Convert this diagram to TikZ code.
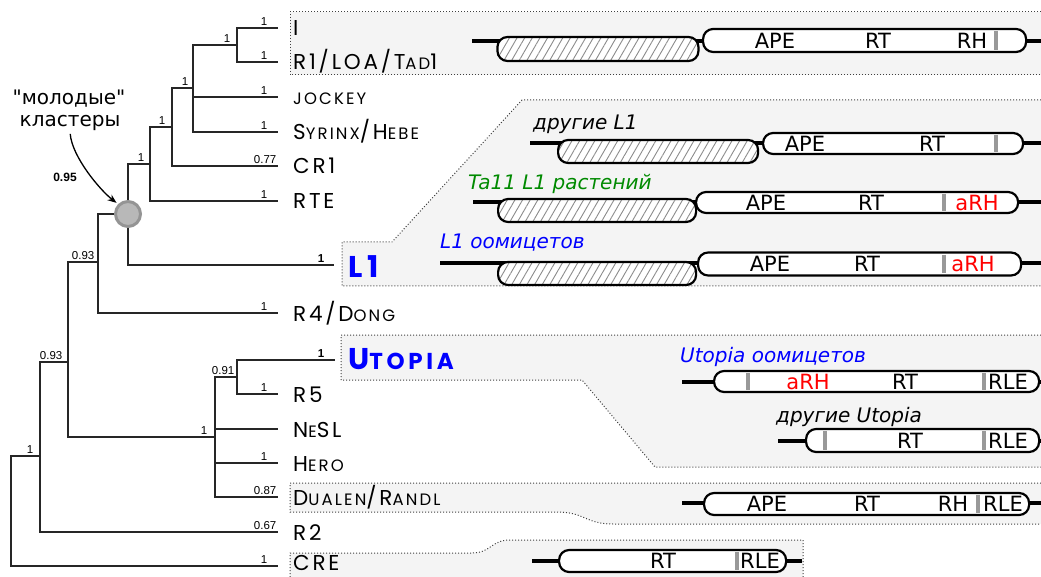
\documentclass[tikz,border=0pt]{standalone}
\usepackage{fontspec}
\setmainfont{DejaVu Sans}
\newfontfamily\annfont{DejaVu Sans}
\newfontfamily\leaffont[LetterSpace=13]{Poppins}
\newfontfamily\bigleaffont[LetterSpace=16]{Poppins}
\newfontfamily\numfont{Liberation Sans}
\usetikzlibrary{patterns.meta,arrows.meta}
\definecolor{regionbg}{HTML}{F4F4F4}
\definecolor{bargray}{HTML}{999999}
\definecolor{mygreen}{HTML}{008A00}
\definecolor{myblue}{HTML}{0000FF}
\definecolor{myred}{HTML}{FF0000}
\newcommand\Ssc[1]{{\fontsize{16.5}{16.5}\selectfont #1}}
\newcommand\Bsc[1]{{\fontsize{23}{23}\selectfont #1}}
\begin{document}
\begin{tikzpicture}[x=1pt,y=-1pt,
  edge/.style={line width=1.4pt,draw=black!85},
  lab/.style={font=\numfont\fontsize{11.5}{11.5}\selectfont,anchor=south east,inner sep=0pt,yshift=1.5pt},
  leaf/.style={font=\leaffont\fontsize{21.5}{21.5}\selectfont,anchor=base west,inner sep=0pt},
  bigleaf/.style={font=\bigleaffont\bfseries\fontsize{30}{30}\selectfont,anchor=base west,inner sep=0pt,text=myblue},
  dotb/.style={draw=black!75,line width=1pt,dash pattern=on 1pt off 2pt},
  orf/.style={draw=black,line width=2.2pt,fill=white,rounded corners=10pt,inner sep=0pt,minimum height=22pt,anchor=west},
  hatch/.style={orf,preaction={fill=white},pattern={Lines[angle=60,distance=6.6pt,line width=0.9pt]},pattern color=black!45},
  backbone/.style={line width=3.2pt,black},
  otext/.style={font=\fontsize{21}{21}\selectfont,inner sep=0pt},
  itext/.style={font=\itshape\fontsize{20}{20}\selectfont,inner sep=0pt,anchor=base west},
  gbar/.style={draw=bargray,line width=4pt}]
\useasboundingbox (0,0) rectangle (1041,577);

% ---------- shaded regions ----------
\fill[regionbg] (1041,12) -- (290,12) -- (290,75) -- (1041,75) -- cycle;
\draw[dotb] (1041,12) -- (290,12) -- (290,75) -- (1041,75);
\fill[regionbg] (1041,100) -- (522,100) -- (392,242) -- (342,242) -- (342,286) -- (1041,286) -- cycle;
\draw[dotb] (1041,100) -- (522,100) -- (392,242) -- (342,242) -- (342,286) -- (1041,286);
\fill[regionbg] (1041,335) -- (341,335) -- (341,380) -- (582,380) -- (655,467) -- (1041,467) -- cycle;
\draw[dotb] (1041,335) -- (341,335) -- (341,380) -- (582,380) -- (655,467) -- (1041,467);
\fill[regionbg] (1041,483) -- (290,483) -- (290,512) -- (557,512) .. controls (585,512) and (585,524) .. (613,524) -- (1041,524) -- cycle;
\draw[dotb] (1041,483) -- (290,483) -- (290,512) -- (557,512) .. controls (585,512) and (585,524) .. (613,524) -- (1041,524);
\fill[regionbg] (290,577) -- (290,553) -- (472,553) .. controls (491,553) and (491,540) .. (510,540) -- (803,540) -- (803,577) -- cycle;
\draw[dotb] (290,577) -- (290,553) -- (472,553) .. controls (491,553) and (491,540) .. (510,540) -- (803,540) -- (803,577);

% ---------- tree ----------
\coordinate (lI) at (278,28);
\coordinate (lR1) at (278,62);
\coordinate (lJo) at (278,97);
\coordinate (lSy) at (278,132);
\coordinate (lCR) at (278,166);
\coordinate (lRTE) at (278,201);
\coordinate (lL1) at (334,265);
\coordinate (lR4) at (278,313);
\coordinate (lUt) at (335,360);
\coordinate (lR5) at (278,394);
\coordinate (lNe) at (278,429);
\coordinate (lHe) at (278,463);
\coordinate (lDu) at (278,497);
\coordinate (lR2) at (278,532);
\coordinate (lCRE) at (278,566);
\coordinate (nA) at (237,45);
\coordinate (nB) at (193,88);
\coordinate (nC) at (172,127);
\coordinate (nD) at (150,164);
\coordinate (nE) at (128,214);
\coordinate (nF) at (98,262);
\coordinate (nG) at (68,362);
\coordinate (nH) at (215,437);
\coordinate (nI) at (237,377);
\coordinate (nJ) at (40,456);
\coordinate (nK) at (11,500);

\draw[edge] (nA) |- (lI) node[lab,pos=1,xshift=-10pt]{1};
\draw[edge] (nA) |- (lR1) node[lab,pos=1,xshift=-10pt]{1};
\draw[edge] (nB) |- (nA) node[lab,pos=1,xshift=-6pt]{1};
\draw[edge] (nB) |- (lJo) node[lab,pos=1,xshift=-10pt]{1};
\draw[edge] (nB) |- (lSy) node[lab,pos=1,xshift=-10pt]{1};
\draw[edge] (nC) |- (nB) node[lab,pos=1,xshift=-4pt]{1};
\draw[edge] (nC) |- (lCR) node[lab,pos=1,xshift=-1pt]{0.77};
\draw[edge] (nD) |- (nC) node[lab,pos=1,xshift=-6pt]{1};
\draw[edge] (nD) |- (lRTE) node[lab,pos=1,xshift=-10pt]{1};
\draw[edge] (nE) |- (nD) node[lab,pos=1,xshift=-5pt]{1};
\draw[edge] (nE) |- (lL1) node[lab,pos=1,xshift=-9pt,font=\numfont\bfseries\fontsize{11.5}{11.5}\selectfont]{1};
\draw[edge] (nF) |- (nE);
\draw[edge] (nF) |- (lR4) node[lab,pos=1,xshift=-10pt]{1};
\draw[edge] (nG) |- (nF) node[lab,pos=1,xshift=-3pt]{0.93};
\draw[edge] (nG) |- (nH) node[lab,pos=1,xshift=-7pt]{1};
\draw[edge] (nI) |- (lUt) node[lab,pos=1,xshift=-10pt,font=\numfont\bfseries\fontsize{11.5}{11.5}\selectfont]{1};
\draw[edge] (nI) |- (lR5) node[lab,pos=1,xshift=-10pt]{1};
\draw[edge] (nH) |- (nI) node[lab,pos=1,xshift=-2pt]{0.91};
\draw[edge] (nH) |- (lNe);
\draw[edge] (nH) |- (lHe) node[lab,pos=1,xshift=-10pt]{1};
\draw[edge] (nH) |- (lDu) node[lab,pos=1,xshift=-1pt]{0.87};
\draw[edge] (nJ) |- (nG) node[lab,pos=1,xshift=-5pt]{0.93};
\draw[edge] (nJ) |- (lR2) node[lab,pos=1,xshift=-1pt]{0.67};
\draw[edge] (nK) |- (nJ) node[lab,pos=1,xshift=-6pt]{1};
\draw[edge] (nK) |- (lCRE) node[lab,pos=1,xshift=-10pt]{1};

\node[circle,fill=black!28,draw=black!42,line width=3pt,minimum size=25pt,inner sep=0pt] (circ) at (nE) {};

% annotation
\node[inner sep=0pt,font=\annfont\fontsize{20}{20}\selectfont] (mol) at (69,99) {"молодые"};
\node[inner sep=0pt,font=\annfont\fontsize{20}{20}\selectfont] (kl) at (70,123) {кластеры};
\node[inner sep=0pt,font=\numfont\bfseries\fontsize{12}{12}\selectfont] (p95) at (65,177) {0.95};
\draw[line width=1.3pt,-{Stealth[length=9pt,width=7pt]},shorten <=3pt,shorten >=2pt] (kl.south) .. controls +(2,26) and +(-18,-14) .. (circ.north west);

% leaf labels
\node[leaf] (tI) at (293,36) {I};
\node[leaf] (tR1) at (293,70) {R1/LOA/T\Ssc{AD}1};
\node[leaf] (tJo) at (293,105) {\Ssc{JOCKEY}};
\node[leaf] (tSy) at (293,140) {S\Ssc{YRINX}/H\Ssc{EBE}};
\node[leaf] (tCR) at (293,174) {CR1};
\node[leaf] (tRTE) at (293,209) {RTE};
\node[bigleaf] (tL1) at (348,277) {L1};
\node[leaf] (tR4) at (293,321) {R4/D\Ssc{ONG}};
\node[bigleaf] (tUt) at (348,369) {U\Bsc{TOPIA}};
\node[leaf] (tR5) at (293,402) {R5};
\node[leaf] (tNe) at (293,437) {N\Ssc{E}SL};
\node[leaf] (tHe) at (293,471) {H\Ssc{ERO}};
\node[leaf] (tDu) at (293,505) {D\Ssc{UALEN}/R\Ssc{ANDL}};
\node[leaf] (tR2) at (293,540) {R2};
\node[leaf] (tCRE) at (293,570) {CRE};

% ---------- ORF row 1 ----------
\coordinate (s1) at (472,41); \coordinate (e1) at (1041,41);
\draw[backbone] (s1) -- (e1);
\node[hatch,minimum width=201pt,minimum height=24pt] (h1) at (497,49) {};
\node[orf,minimum width=323pt,minimum height=23pt] (w1) at (702,40.5) {};
\node[otext] at (775,40.5) {APE};
\node[otext] at (878,40.5) {RT};
\node[otext] at (972,40.5) {RH};
\draw[gbar] (996,31) -- (996,50);

% ---------- ORF row 2 ----------
\node[itext] (lab2) at (533,130) {другие L1};
\coordinate (s2) at (530,143); \coordinate (e2) at (1041,143);
\draw[backbone] (s2) -- (e2);
\node[hatch,minimum width=200pt,minimum height=23pt] (h2) at (557,151.5) {};
\node[orf,minimum width=260pt,minimum height=21pt] (w2) at (762,143.5) {};
\node[otext] at (805,143.5) {APE};
\node[otext] at (932,143.5) {RT};
\draw[gbar] (996,135) -- (996,152);

% ---------- ORF row 3 ----------
\node[itext,text=mygreen] (lab3) at (468,190) {Ta11 L1 растений};
\coordinate (s3) at (473,202); \coordinate (e3) at (1041,202);
\draw[backbone] (s3) -- (e3);
\node[hatch,minimum width=198pt,minimum height=23pt] (h3) at (497,210.5) {};
\node[orf,minimum width=322pt,minimum height=21pt] (w3) at (695,202.5) {};
\node[otext] at (766,202.5) {APE};
\node[otext] at (871,202.5) {RT};
\draw[gbar] (944,194) -- (944,211);
\node[otext,text=myred] at (977,202.5) {aRH};

% ---------- ORF row 4 ----------
\node[itext,text=myblue] (lab4) at (440,249) {L1 оомицетов};
\coordinate (s4) at (440,263); \coordinate (e4) at (1041,263);
\draw[backbone] (s4) -- (e4);
\node[hatch,minimum width=198pt,minimum height=23pt] (h4) at (497,273.5) {};
\node[orf,minimum width=323pt,minimum height=23pt] (w4) at (697,264) {};
\node[otext] at (770,264) {APE};
\node[otext] at (867,264) {RT};
\draw[gbar] (944,255) -- (944,273);
\node[otext,text=myred] at (973,264) {aRH};

% ---------- ORF row 5 ----------
\node[itext,text=myblue] (lab5) at (680,362) {Utopia оомицетов};
\coordinate (s5) at (682,382); \coordinate (e5) at (1041,382);
\draw[backbone] (s5) -- (e5);
\node[orf,minimum width=325pt,minimum height=21pt] (w5) at (713,381.5) {};
\draw[gbar] (748,373) -- (748,390);
\node[otext,text=myred] at (808,381.5) {aRH};
\node[otext] at (905,381.5) {RT};
\draw[gbar] (984,373) -- (984,390);
\node[otext] at (1008,381.5) {RLE};

% ---------- ORF row 6 ----------
\node[itext] (lab6) at (776,422) {другие Utopia};
\coordinate (s6) at (778,441); \coordinate (e6) at (1041,441);
\draw[backbone] (s6) -- (e6);
\node[orf,minimum width=233pt,minimum height=23pt] (w6) at (805,440.5) {};
\draw[gbar] (825,431) -- (825,450);
\node[otext] at (910,440.5) {RT};
\draw[gbar] (984,431) -- (984,450);
\node[otext] at (1008,440.5) {RLE};

% ---------- ORF row 7 ----------
\coordinate (s7) at (682,503); \coordinate (e7) at (1041,503);
\draw[backbone] (s7) -- (e7);
\node[orf,minimum width=325pt,minimum height=22pt] (w7) at (703,504) {};
\node[otext] at (767,504) {APE};
\node[otext] at (867,504) {RT};
\node[otext] at (953,504) {RH};
\draw[gbar] (978,495) -- (978,513);
\node[otext] at (1003,504) {RLE};

% ---------- ORF row 8 ----------
\coordinate (s8) at (532,561); \coordinate (e8) at (802,561);
\draw[backbone] (s8) -- (e8);
\node[orf,minimum width=227pt,minimum height=22pt] (w8) at (558,561) {};
\node[otext] at (663,561) {RT};
\draw[gbar] (737,552) -- (737,570);
\node[otext] at (760,561) {RLE};
\end{tikzpicture}
\end{document}
